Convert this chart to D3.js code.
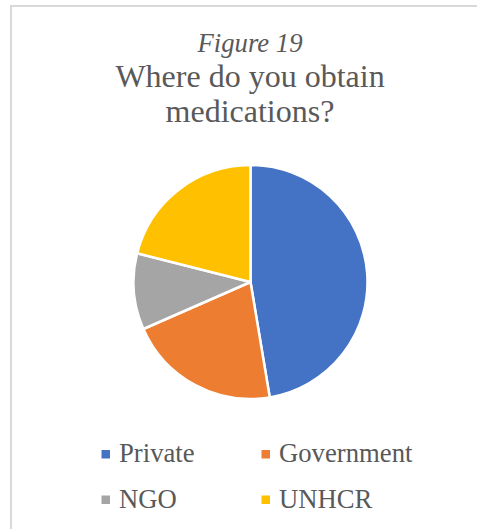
<!DOCTYPE html>
<html>
<head>
<meta charset="utf-8">
<script src="https://cdn.jsdelivr.net/npm/d3@7/dist/d3.min.js"></script>
<style>
  html, body { margin: 0; padding: 0; background: #ffffff; }
  svg { display: block; }
  text { font-family: "Liberation Serif", "Times New Roman", Times, serif; fill: #595959; }
</style>
</head>
<body>
<svg id="chart" width="477" height="529"></svg>
<script>
// Survey responses: where medications are obtained
const categories = ["Private", "Government", "NGO", "UNHCR"];
const counts = [9, 4, 2, 4];
const colors = ["#4472C4", "#ED7D31", "#A5A5A5", "#FFC000"];
const figureLabel = "Figure 19";
const titleLines = ["Where do you obtain", "medications?"];

const W = 477, H = 529;
const svg = d3.select("#chart");

// Chart area frame
svg.append("rect")
  .attr("x", 11).attr("y", 6)
  .attr("width", W + 10).attr("height", H + 10)
  .attr("fill", "#ffffff")
  .attr("stroke", "#d9d9d9")
  .attr("stroke-width", 2);

// Title
const cx = 250;
svg.append("text")
  .attr("x", cx).attr("y", 52)
  .attr("text-anchor", "middle")
  .style("font-style", "italic")
  .style("font-size", "26.7px")
  .text(figureLabel);

svg.selectAll("text.title")
  .data(titleLines)
  .join("text")
  .attr("class", "title")
  .attr("x", cx)
  .attr("y", (d, i) => 87 + i * 35)
  .attr("text-anchor", "middle")
  .style("font-size", "32px")
  .text(d => d);

// Pie
const data = categories.map((c, i) => ({ name: c, value: counts[i], color: colors[i] }));
const pie = d3.pie().value(d => d.value).sort(null);
const arc = d3.arc().innerRadius(0).outerRadius(117);

svg.append("g")
  .attr("transform", "translate(250.5,282)")
  .selectAll("path")
  .data(pie(data))
  .join("path")
  .attr("d", arc)
  .attr("fill", d => d.data.color)
  .attr("stroke", "#ffffff")
  .attr("stroke-width", 2.5)
  .attr("stroke-linejoin", "round");

// Legend: two columns, two rows
const colX = [101.5, 261.5];
const rowY = [462, 507.5];
const legend = svg.append("g");
data.forEach((d, i) => {
  const x = colX[i % 2], y = rowY[Math.floor(i / 2)];
  legend.append("rect")
    .attr("x", x).attr("y", y - 12)
    .attr("width", 8.5).attr("height", 8.5)
    .attr("fill", d.color);
  legend.append("text")
    .attr("x", x + 17.5).attr("y", y)
    .style("font-size", "26.7px")
    .text(d.name);
});
</script>
</body>
</html>
